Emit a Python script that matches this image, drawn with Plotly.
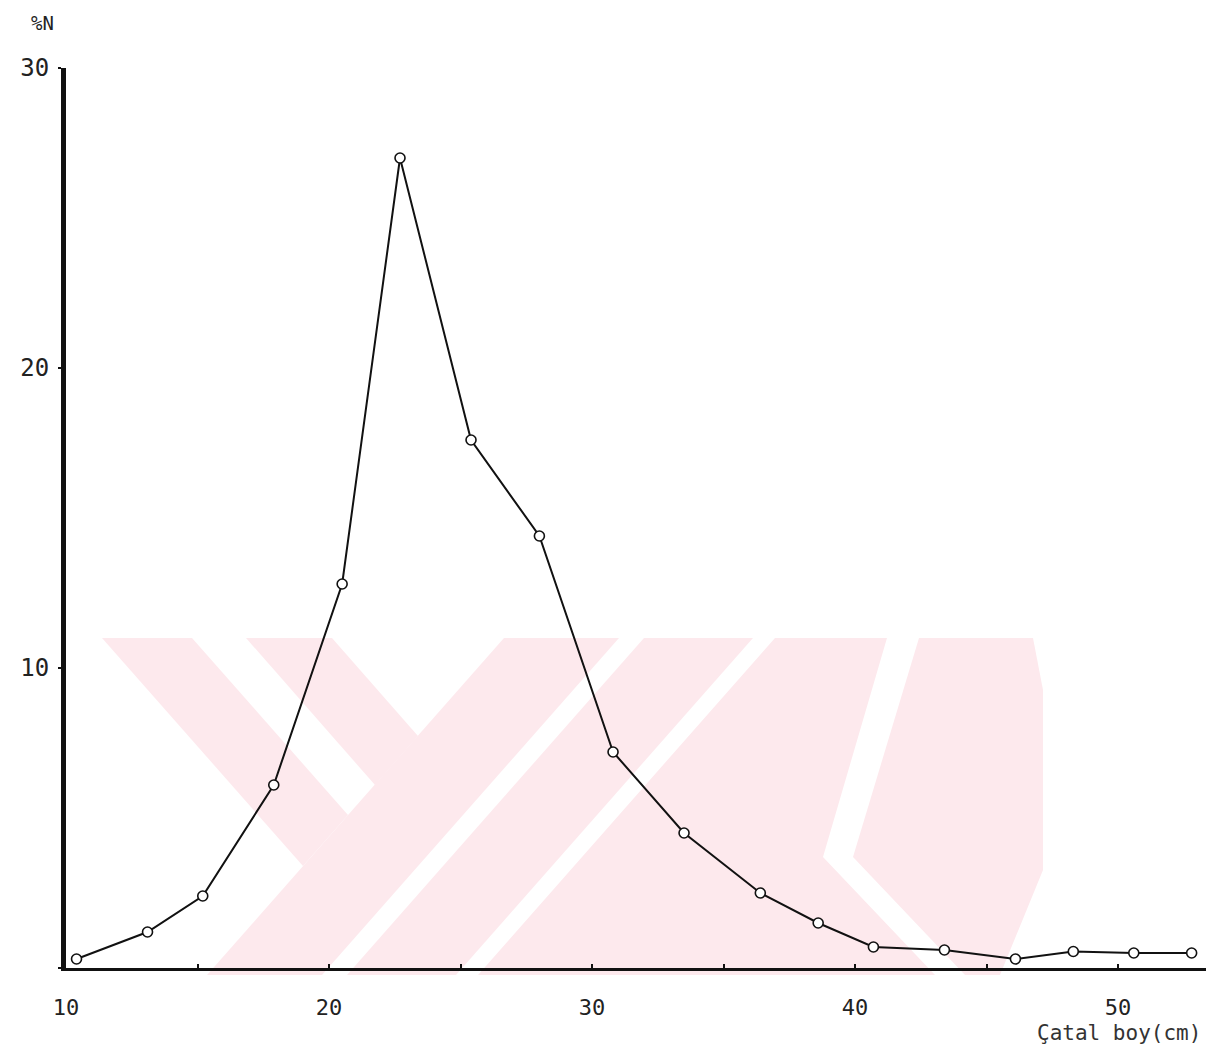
import plotly.graph_objects as go

# ---- data ----
length_cm = [10.4, 13.1, 15.2, 17.9, 20.5, 22.7, 25.4, 28.0, 30.8, 33.5,
             36.4, 38.6, 40.7, 43.4, 46.1, 48.3, 50.6, 52.8]
percent_n = [0.3, 1.2, 2.4, 6.1, 12.8, 27.0, 17.6, 14.4, 7.2, 4.5,
             2.5, 1.5, 0.7, 0.6, 0.3, 0.55, 0.5, 0.5]

x_tickvals = [10, 15, 20, 25, 30, 35, 40, 45, 50]
x_ticktext = ["10", "", "20", "", "30", "", "40", "", "50"]
y_tickvals = [0, 10, 20, 30]
y_ticktext = ["", "10", "20", "30"]

# ---- layout geometry (page has an 8px body margin) ----
OFF = 8
W, H = 1206, 1040
L, T = 58, 60
PW, PH = 1141, 900
R, B = W - L - PW, H - T - PH

def paper(px, py):
    # px, py are page pixel positions
    return (px - OFF - L) / PW, (OFF + T + PH - py) / PH

def poly(points):
    pts = [paper(px, py) for px, py in points]
    d = "M " + " L ".join(f"{x:.5f},{y:.5f}" for x, y in pts) + " Z"
    return dict(type="path", xref="paper", yref="paper", path=d,
                fillcolor="rgb(253,233,237)", line=dict(width=0), layer="below")

# watermark (faint pink logo behind the plot)
wm = [
    [(102, 638), (192, 638), (348, 815), (303, 866)],
    [(246, 638), (332, 638), (418, 736), (375, 785)],
    [(504, 638), (619, 638), (322, 975), (207, 975)],
    [(644, 638), (753, 638), (456, 975), (347, 975)],
    [(775, 638), (887, 638), (823, 857), (935, 975), (478, 975)],
    [(919, 638), (1033, 638), (1043, 690), (1043, 870), (1000, 975), (965, 975), (853, 857)],
]

fig = go.Figure()
fig.add_trace(go.Scatter(
    x=length_cm, y=percent_n, mode="lines+markers",
    line=dict(color="#111111", width=2),
    marker=dict(symbol="circle", size=10, color="white",
                line=dict(color="#111111", width=1.6)),
    showlegend=False, cliponaxis=False,
))

font = "DejaVu Sans Mono"
fig.update_layout(
    width=W, height=H,
    margin=dict(l=L, r=R, t=T, b=B),
    paper_bgcolor="white", plot_bgcolor="white",
    shapes=[poly(p) for p in wm],
    xaxis=dict(range=[10, 10 + PW / 26.3], showgrid=False, zeroline=False,
               showline=True, linecolor="#111111", linewidth=2.5,
               tickvals=x_tickvals, ticktext=x_ticktext,
               ticks="inside", ticklen=4, tickwidth=2, tickcolor="#111111",
               ticklabelstandoff=18,
               tickfont=dict(family=font, size=22, color="#222222")),
    yaxis=dict(range=[0, 30], showgrid=False, zeroline=False,
               showline=True, linecolor="#111111", linewidth=5,
               tickvals=y_tickvals, ticktext=y_ticktext,
               ticks="outside", ticklen=3, tickwidth=2, tickcolor="#111111",
               ticklabelstandoff=4,
               tickfont=dict(family=font, size=24, color="#222222")),
    annotations=[
        dict(text="%N", xref="paper", yref="paper", x=0, y=1,
             xanchor="right", yanchor="middle", xshift=-10, yshift=45,
             showarrow=False, font=dict(family=font, size=19, color="#222222")),
        dict(text="Çatal boy(cm)", xref="paper", yref="paper", x=1, y=0,
             xanchor="right", yanchor="middle", xshift=-4, yshift=-65,
             showarrow=False, font=dict(family=font, size=21, color="#333333")),
    ],
)

fig.write_html("out.html")
